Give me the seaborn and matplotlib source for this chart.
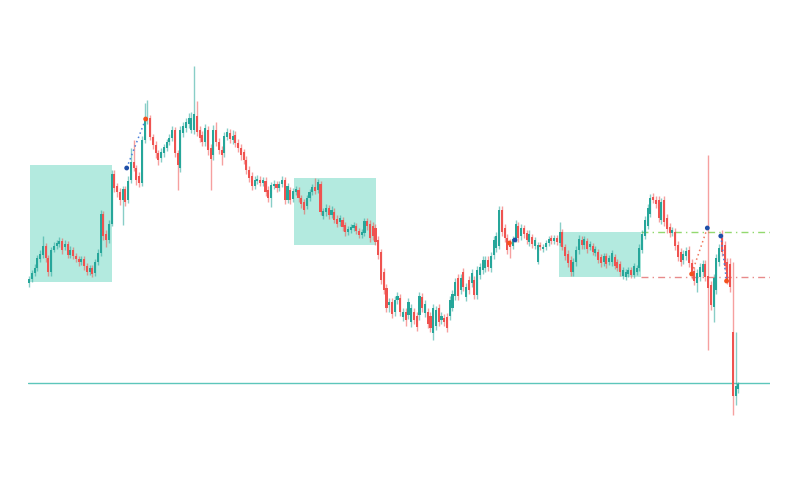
import numpy as np
import pandas as pd
import matplotlib
matplotlib.use('Agg')
import matplotlib.pyplot as plt
from matplotlib.patches import Rectangle
import seaborn as sns

# OHLC candles (arbitrary price units)
opens = [217, 221, 227, 232, 241, 245, 254, 242, 228, 250,
         254, 256, 259, 253, 256, 245, 250, 244, 241, 238,
         241, 234, 228, 232, 227, 238, 247, 286, 266, 260,
         276, 326, 314, 308, 300, 311, 300, 320, 338, 332,
         324, 317, 360, 381, 382, 363, 355, 347, 342, 347,
         352, 358, 362, 370, 347, 332, 367, 372, 376, 370,
         370, 384, 370, 365, 358, 370, 352, 345, 370, 358,
         350, 347, 363, 367, 360, 365, 357, 352, 348, 340,
         330, 324, 314, 319, 320, 317, 319, 310, 302, 314,
         316, 312, 316, 320, 300, 310, 301, 308, 310, 302,
         298, 294, 302, 308, 313, 310, 316, 284, 288, 292,
         285, 288, 281, 278, 280, 275, 268, 270, 272, 274,
         269, 265, 267, 279, 276, 274, 272, 260, 248, 228,
         212, 195, 198, 188, 200, 202, 183, 188, 185, 178,
         188, 184, 185, 203, 187, 188, 184, 167, 174, 192,
         180, 182, 183, 184, 192, 204, 222, 210, 228, 203,
         220, 217, 220, 205, 225, 230, 232, 240, 232, 245,
         252, 254, 290, 272, 262, 257, 254, 261, 274, 264,
         272, 267, 258, 263, 254, 238, 255, 251, 253, 257,
         262, 259, 262, 257, 268, 253, 246, 240, 228, 238,
         250, 260, 255, 259, 253, 254, 247, 248, 243, 238,
         244, 238, 238, 243, 238, 236, 224, 223, 226, 230,
         225, 228, 232, 250, 264, 274, 286, 303, 300, 300,
         280, 300, 282, 273, 267, 268, 255, 248, 240, 244,
         250, 237, 229, 217, 223, 228, 236, 224, 215, 193,
         210, 238, 262, 255, 238, 236, 168, 104, 111]
highs = [224, 230, 236, 245, 250, 264, 257, 245, 253, 258,
         260, 263, 262, 260, 259, 254, 253, 247, 244, 244,
         244, 237, 235, 235, 241, 251, 290, 289, 270, 280,
         330, 330, 317, 312, 314, 314, 324, 352, 360, 335,
         328, 364, 397, 400, 385, 366, 359, 350, 352, 356,
         361, 366, 374, 373, 350, 374, 378, 382, 387, 388,
         434, 399, 374, 369, 376, 374, 356, 375, 378, 362,
         354, 368, 372, 371, 370, 369, 361, 356, 351, 344,
         334, 328, 324, 325, 324, 323, 323, 314, 318, 320,
         319, 319, 324, 323, 317, 313, 312, 314, 313, 305,
         301, 305, 311, 316, 322, 321, 319, 292, 296, 295,
         294, 292, 285, 285, 283, 278, 274, 276, 278, 277,
         272, 271, 282, 282, 280, 278, 276, 264, 251, 232,
         216, 202, 202, 204, 208, 206, 192, 192, 202, 196,
         192, 188, 208, 207, 200, 192, 188, 196, 194, 196,
         188, 186, 187, 204, 210, 222, 226, 226, 232, 217,
         224, 231, 224, 234, 237, 244, 244, 244, 248, 264,
         268, 294, 294, 276, 266, 261, 264, 280, 278, 276,
         275, 270, 270, 266, 263, 258, 258, 256, 260, 264,
         265, 265, 265, 278, 271, 256, 250, 244, 242, 254,
         265, 264, 264, 262, 259, 257, 254, 251, 246, 247,
         247, 245, 250, 246, 241, 239, 233, 231, 233, 233,
         237, 235, 256, 270, 284, 296, 306, 307, 304, 304,
         302, 304, 286, 277, 273, 272, 259, 252, 250, 253,
         254, 241, 233, 231, 237, 240, 240, 345, 219, 226,
         246, 256, 270, 259, 242, 242, 238, 168, 118]
lows = [213, 218, 224, 229, 238, 242, 238, 224, 224, 248,
        251, 253, 246, 250, 242, 242, 241, 238, 234, 235,
        230, 225, 225, 223, 224, 235, 244, 260, 253, 257,
        274, 308, 303, 295, 275, 294, 297, 317, 329, 315,
        313, 314, 357, 376, 360, 351, 342, 335, 338, 343,
        349, 355, 359, 343, 310, 328, 363, 368, 372, 367,
        366, 364, 358, 354, 354, 345, 310, 340, 354, 346,
        335, 343, 360, 357, 356, 353, 348, 340, 336, 326,
        318, 310, 311, 316, 314, 314, 304, 298, 293, 311,
        308, 309, 313, 296, 297, 296, 298, 305, 298, 292,
        286, 291, 299, 305, 306, 307, 285, 281, 284, 281,
        282, 277, 273, 274, 269, 264, 265, 267, 269, 266,
        262, 262, 264, 270, 258, 260, 255, 241, 216, 206,
        188, 188, 182, 184, 196, 184, 179, 174, 181, 173,
        176, 169, 180, 188, 183, 172, 168, 160, 170, 174,
        176, 174, 168, 180, 189, 200, 200, 206, 209, 199,
        206, 213, 201, 201, 221, 226, 228, 229, 228, 241,
        248, 251, 264, 258, 246, 242, 251, 258, 258, 260,
        262, 256, 254, 252, 251, 236, 250, 248, 250, 254,
        256, 256, 255, 254, 250, 240, 233, 224, 224, 234,
        246, 251, 251, 247, 250, 245, 244, 237, 233, 234,
        232, 235, 234, 231, 229, 224, 221, 220, 223, 222,
        222, 225, 229, 247, 261, 271, 283, 297, 292, 278,
        276, 274, 267, 263, 264, 250, 239, 234, 236, 240,
        233, 221, 215, 208, 219, 224, 219, 150, 190, 178,
        206, 234, 244, 230, 216, 208, 85, 95, 107]
closes = [221, 227, 232, 242, 246, 254, 242, 228, 250, 254,
          257, 259, 250, 256, 245, 250, 244, 241, 238, 241,
          234, 228, 232, 226, 238, 247, 286, 264, 260, 276,
          326, 312, 308, 300, 311, 298, 319, 338, 332, 320,
          317, 360, 381, 382, 363, 355, 347, 340, 348, 353,
          358, 362, 370, 347, 335, 370, 374, 378, 382, 382,
          386, 368, 362, 358, 372, 350, 341, 370, 358, 350,
          345, 364, 368, 361, 364, 357, 352, 345, 340, 330,
          322, 314, 320, 321, 317, 320, 308, 302, 315, 316,
          312, 316, 320, 300, 314, 300, 309, 311, 302, 296,
          290, 302, 308, 313, 309, 318, 288, 289, 292, 285,
          290, 280, 276, 282, 273, 268, 271, 273, 275, 269,
          265, 268, 279, 274, 262, 264, 258, 245, 220, 210,
          192, 198, 186, 200, 204, 188, 188, 180, 198, 192,
          180, 173, 204, 192, 196, 176, 172, 192, 190, 178,
          184, 178, 172, 200, 206, 218, 204, 222, 213, 213,
          210, 227, 205, 230, 233, 240, 240, 233, 244, 260,
          264, 290, 268, 262, 250, 253, 261, 276, 262, 272,
          266, 260, 266, 256, 260, 255, 253, 253, 257, 261,
          259, 262, 258, 268, 253, 244, 237, 228, 238, 250,
          261, 255, 261, 251, 256, 248, 251, 240, 237, 244,
          236, 242, 247, 234, 232, 228, 230, 228, 230, 225,
          234, 232, 252, 266, 280, 292, 302, 300, 296, 282,
          298, 278, 271, 267, 270, 254, 243, 238, 246, 249,
          237, 225, 219, 227, 233, 236, 223, 212, 195, 222,
          242, 252, 248, 234, 220, 213, 104, 114, 116]

# consolidation boxes (candle index span, price range)
box_start = [0.4, 96.4, 192.7]
box_end = [30.2, 126.2, 222.5]
box_low = [218, 255, 223]
box_high = [335, 322, 268]

# levels
support_level = 117
upper_level = 268
lower_level = 223
level_start = 222.5

# signal markers: blue and red points, paired by position
blue_x = [35.5, 176.7, 246.7, 251.6]
blue_y = [332, 260, 272, 264]
red_x = [42.4, 174.7, 241.0, 253.7]
red_y = [381, 257, 226, 219]
pair_colors = ['#4a7fd9', '#4a7fd9', '#f0785e', '#4a7fd9']

UP = '#26a69a'
DOWN = '#ef5350'

df = pd.DataFrame({'open': opens, 'high': highs, 'low': lows, 'close': closes})
df['idx'] = np.arange(len(df))
df['up'] = df['close'] >= df['open']
df['color'] = np.where(df['up'], UP, DOWN)

sns.set_theme(style='white')
fig = plt.figure(figsize=(8, 5), dpi=100)
ax = fig.add_axes([0.035, 0.0, 0.9275, 1.0])

# boxes behind everything
for x0, x1, lo, hi in zip(box_start, box_end, box_low, box_high):
    ax.add_patch(Rectangle((x0, lo), x1 - x0, hi - lo, facecolor='#b3eadf',
                           edgecolor='none', zorder=0))

# wicks
ax.vlines(df['idx'], df['low'], df['high'], colors=df['color'], alpha=0.55,
          linewidth=1.0, zorder=2)
# bodies
body_bottom = df[['open', 'close']].min(axis=1)
body_height = (df['close'] - df['open']).abs().clip(lower=1)
ax.bar(df['idx'], body_height, bottom=body_bottom, width=0.75,
       color=df['color'], linewidth=0, zorder=3)

xmax = 269.5
ax.axhline(support_level, color='#5cc6bb', linewidth=1.0, zorder=1)
ax.plot([level_start, xmax], [upper_level, upper_level], color='#93d96e',
        linewidth=1.0, linestyle=(0, (5, 3, 1, 3)), zorder=1)
ax.plot([level_start, xmax], [lower_level, lower_level], color='#e88a8a',
        linewidth=1.0, linestyle=(0, (5, 3, 1, 3)), zorder=1)

# dotted connectors between paired signals
for bx, by, rx, ry, c in zip(blue_x, blue_y, red_x, red_y, pair_colors):
    ax.plot([bx, rx], [by, ry], color=c, linewidth=1.1, linestyle=(0, (1, 2)),
            zorder=4)

sns.scatterplot(x=blue_x, y=blue_y, color='#1f4fa8', s=12, marker='o',
                edgecolor='none', zorder=5, ax=ax)
sns.scatterplot(x=red_x, y=red_y, color='#f4511e', s=12, marker='o',
                edgecolor='none', zorder=5, ax=ax)

ax.set_xlim(-0.4, xmax)
ax.set_ylim(0, 500)
ax.axis('off')

fig.savefig('out.png', dpi=100)
